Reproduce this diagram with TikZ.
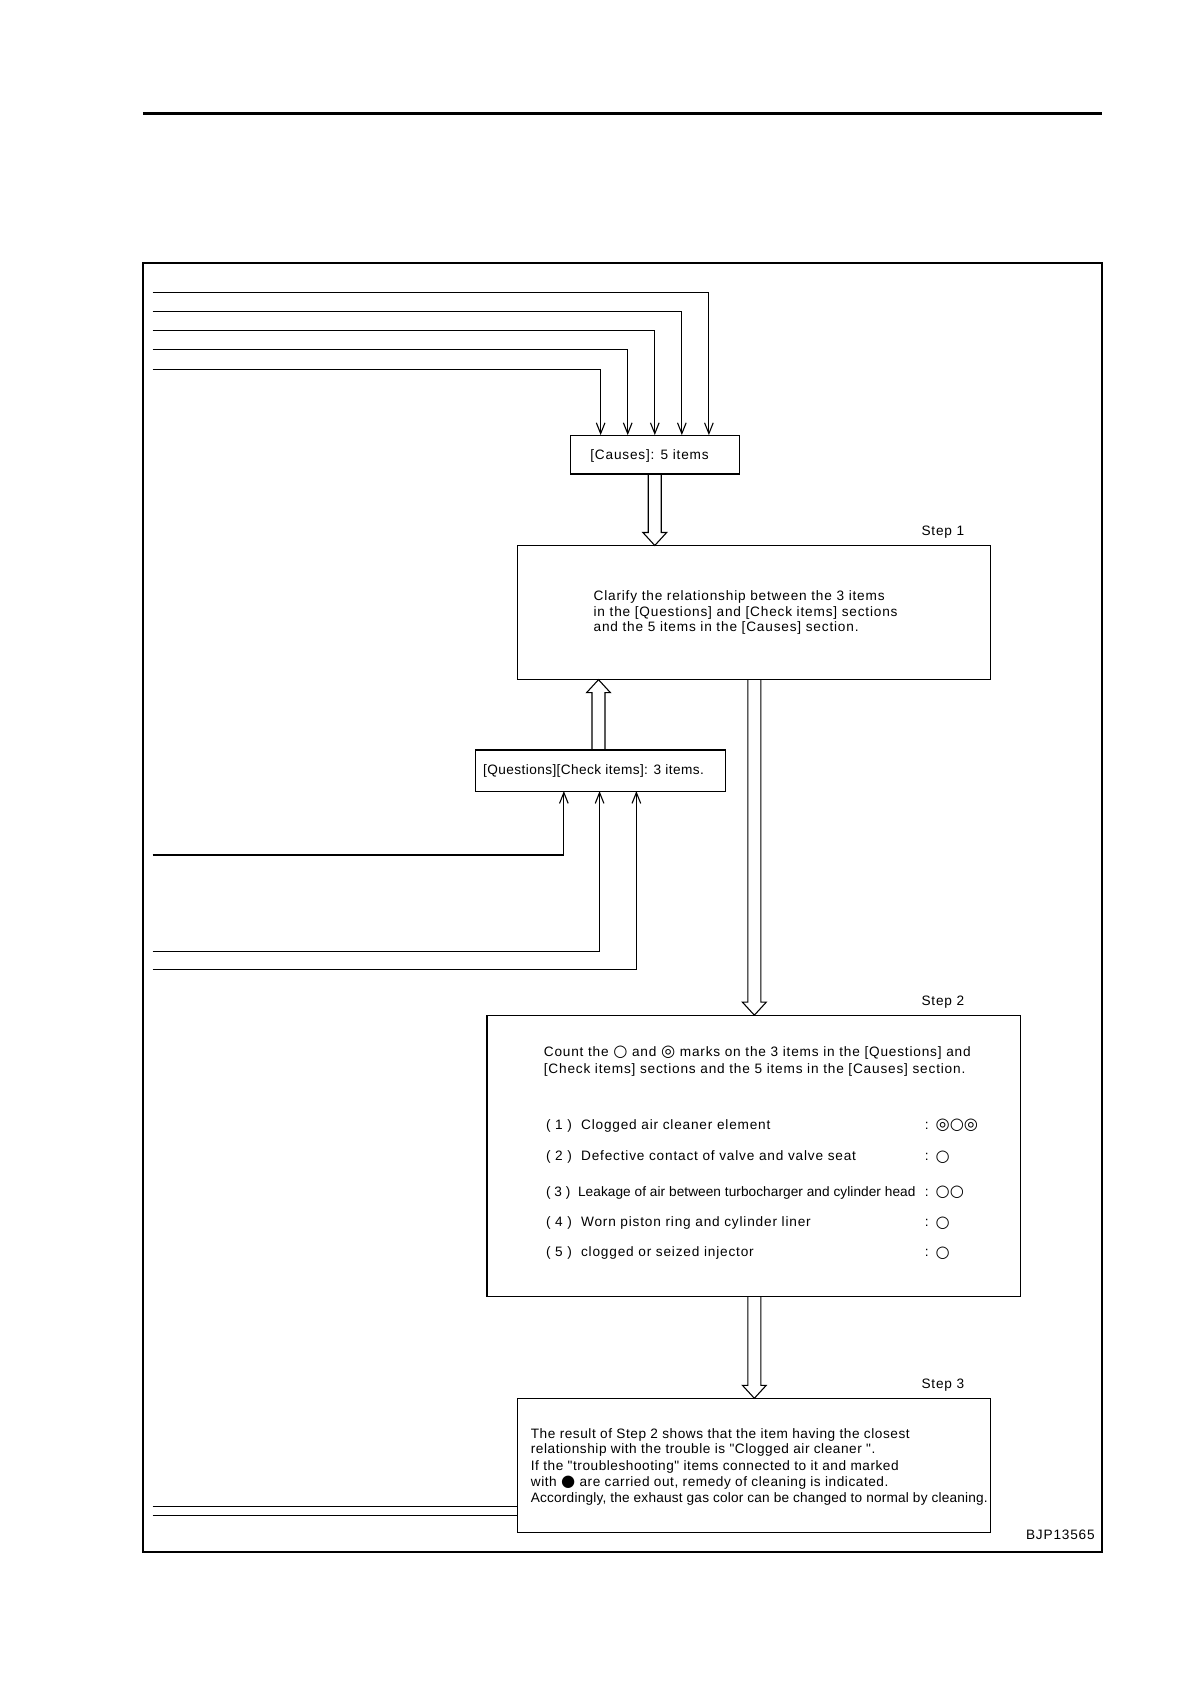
\documentclass[tikz,border=0pt]{standalone}
\usepackage{fontspec}
\setmainfont{Liberation Sans}[LetterSpace=6]
\newfontfamily\narrowf{Liberation Sans}
\newfontfamily\djv{DejaVu Sans}
\usetikzlibrary{calc,arrows.meta}
\begin{document}
\begin{tikzpicture}[x=0.5pt,y=-0.5pt,line width=0.5pt,
  box/.style={draw,inner sep=0,anchor=north west},
  txt/.style={font=\fontsize{6.3}{7.5}\selectfont,anchor=west,inner sep=0},
  mk/.style={txt,font=\fontsize{7.5}{7.5}\djv},
  ln/.style={-{Straight Barb[length=5pt,width=4pt]}}]
\useasboundingbox (0,0) rectangle (1100,1556);
\draw[line width=1.3pt] (132,105) -- (1018,105);
\draw[line width=0.7pt] (132,243) rectangle (1018,1434);
% boxes
\draw (527,402) rectangle (683,438);
\node[txt] (causes) at (545,421) {[Causes]: 5 items};
\draw (478,504) rectangle (915,628);
\node[txt] (s1) at (851,492) {Step 1};
\node[txt,align=left,font=\fontsize{6.3}{7.2}\selectfont] (t1) at (548,566) {Clarify the relationship between the 3 items\\in the [Questions] and [Check items] sections\\and the 5 items in the [Causes] section.};
\draw (439,693) rectangle (670,731);
\node[txt,font=\fontsize{6.3}{7.5}\narrowf\addfontfeature{LetterSpace=3}] (q) at (446,712) {[Questions][Check items]: 3 items.};
\draw (450,938) rectangle (943,1198);
\node[txt] (s2) at (851,926) {Step 2};
\node[txt] (c1) at (502,973) {Count the {\fontsize{7.5}{7.5}\djv ○} and {\fontsize{7.5}{7.5}\djv ◎} marks on the 3 items in the [Questions] and};
\node[txt] (c2) at (502,989) {[Check items] sections and the 5 items in the [Causes] section.};
\node[txt] (i1) at (504,1040) {( 1 )\ \ Clogged air cleaner element};
\node[txt] (i2) at (504,1069) {( 2 )\ \ Defective contact of valve and valve seat};
\node[txt,font=\fontsize{6.3}{7.5}\narrowf\addfontfeature{LetterSpace=0.5}] (i3) at (504,1102) {( 3 )\ \ Leakage of air between turbocharger and cylinder head};
\node[txt] (i4) at (504,1130) {( 4 )\ \ Worn piston ring and cylinder liner};
\node[txt] (i5) at (504,1158) {( 5 )\ \ clogged or seized injector};
\node[txt] (k1) at (854,1040) {:}; \node[mk] at (864,1040) {◎○◎};
\node[txt] (k2) at (854,1069) {:}; \node[mk] at (864,1069) {○};
\node[txt] (k3) at (854,1102) {:}; \node[mk] at (864,1102) {○○};
\node[txt] (k4) at (854,1130) {:}; \node[mk] at (864,1130) {○};
\node[txt] (k5) at (854,1158) {:}; \node[mk] at (864,1158) {○};
\draw (478,1292) rectangle (915,1416);
\node[txt] (s3) at (851,1280) {Step 3};
\begin{scope}[every node/.style={txt,font=\fontsize{6.3}{7.5}\narrowf\addfontfeature{LetterSpace=4}}]
\node (r1) at (490,1326) {The result of Step 2 shows that the item having the closest};
\node (r2) at (490,1340) {relationship with the trouble is "Clogged air cleaner ".};
\node (r3) at (490,1355) {If the "troubleshooting" items connected to it and marked};
\node (r4) at (490,1370) {with {\fontsize{7.5}{7.5}\djv ●} are carried out, remedy of cleaning is indicated.};
\node[font=\fontsize{6.3}{7.5}\narrowf\addfontfeature{LetterSpace=1.5}] (r5) at (490,1385) {Accordingly, the exhaust gas color can be changed to normal by cleaning.};
\end{scope}
\node[txt,anchor=east] (code) at (1012,1418) {BJP13565};
% input lines to causes
\foreach \y/\x in {270/655,288/630,305/605,323/580,341/555}
  \draw[ln] (141,\y) -- (\x,\y) -- (\x,402);
% lines to questions
\draw[ln] (141,790) -- (521,790) -- (521,731);
\draw[ln] (141,879) -- (554,879) -- (554,731);
\draw[ln] (141,896) -- (588,896) -- (588,731);
% hollow arrows
\newcommand\hollowdown[3]{\draw (#1-6,#2) -- (#1-6,#3-12) -- (#1-11,#3-12) -- (#1,#3) -- (#1+11,#3-12) -- (#1+6,#3-12) -- (#1+6,#2);}
\hollowdown{605}{438}{504}
\hollowdown{697}{628}{938}
\hollowdown{697}{1198}{1292}
\draw (553-6,693) -- (553-6,640) -- (553-11,640) -- (553,628) -- (553+11,640) -- (553+6,640) -- (553+6,693);
% double line step3
\draw (141,1392) -- (478,1392);
\draw (141,1400) -- (478,1400);
\end{tikzpicture}
\end{document}
